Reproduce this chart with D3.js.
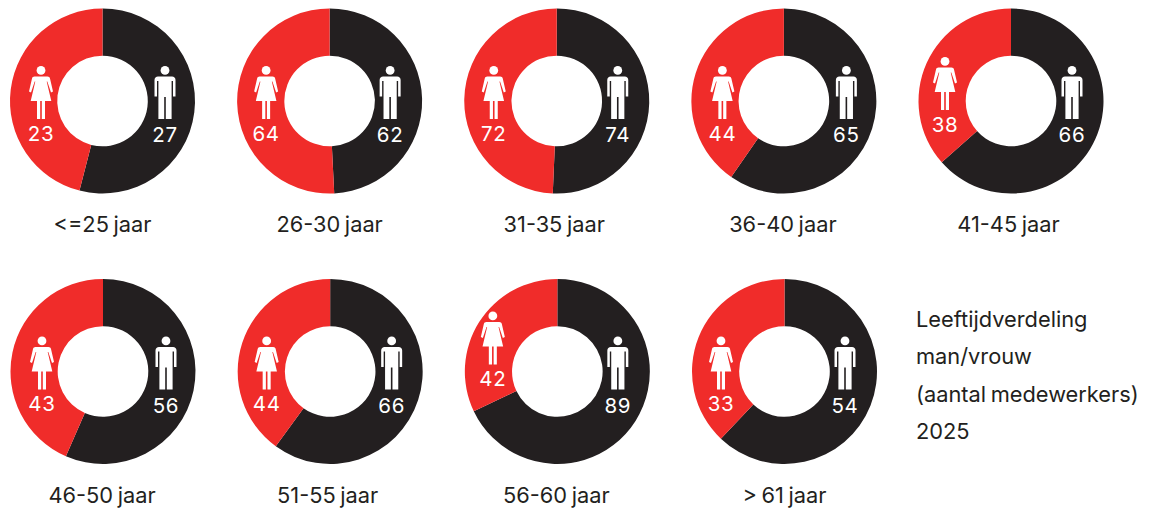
<!DOCTYPE html>
<html>
<head>
<meta charset="utf-8">
<script src="https://cdn.jsdelivr.net/npm/d3@7"></script>
<style>
  html, body { margin: 0; padding: 0; background: #fff; }
  svg { display: block; }
  text { font-family: "Inter", "Lato", sans-serif; }
</style>
</head>
<body>
<svg id="chart" width="1154" height="509"></svg>
<script>
// Values
const ageGroups = ["<=25 jaar", "26-30 jaar", "31-35 jaar", "36-40 jaar", "41-45 jaar",
                   "46-50 jaar", "51-55 jaar", "56-60 jaar", "> 61 jaar"];
const women = [23, 64, 72, 44, 38, 43, 44, 42, 33];
const men = [27, 62, 74, 65, 66, 56, 66, 89, 54];
const caption = ["Leeftijdverdeling", "man/vrouw", "(aantal medewerkers)", "2025"];

const colorWomen = "#f02c2a";
const colorMen = "#231f20";

const svg = d3.select("#chart");
const outerR = 92.5;
const innerR = 45.3;
const perRow = 5;

// Column positions of each row
const xRow1 = d3.scaleLinear().domain([0, 4]).range([102.5, 1011]);
const xRow2 = d3.scaleLinear().domain([0, 3]).range([103, 784.5]);
const rowY = [101, 371.5];

// Icon offsets from the donut centre, women and men
const womanDx = [-61.5, -63.5, -63, -61.5, -66, -61, -63.5, -64.5, -63.5];
const manDx = [62.5, 60.5, 61, 62.5, 61, 63, 61.5, 60.5, 60.5];
const womanLift = [0, 0, 0, 0, 9, 0, 0, 25, 0];
const labelDx = [0, 0, -2.5, -1, -2.5, -1, -2.5, -1, 0];

const arc = d3.arc().innerRadius(innerR).outerRadius(outerR);
const pie = d3.pie().sort(null).value(d => d.value);

// Pictograms, 24 wide and 53 high around x = 0, y = 0 at the head top
function drawWoman(g) {
    g.append("circle").attr("cx", 0).attr("cy", 4.4).attr("r", 4.4);
    g.append("path").attr("d",
        "M-6.5,10.5 L6.5,10.5 C7.8,10.5 8.6,11.2 9,12.4 L12,25.6 L10,26.4 L6.3,15.5 L5.7,15.5" +
        " L10.3,35 L4,35 L4,53 L0.8,53 L0.8,35 L-0.8,35 L-0.8,53 L-4,53 L-4,35 L-10.3,35" +
        " L-5.7,15.5 L-6.3,15.5 L-10,26.4 L-12,25.6 L-9,12.4 C-8.6,11.2 -7.8,10.5 -6.5,10.5 Z");
}

function drawMan(g) {
    g.append("circle").attr("cx", 0).attr("cy", 4.4).attr("r", 4.4);
    g.append("path").attr("d",
        "M-7,10.5 L7,10.5 C9,10.5 10.5,12 10.5,14 L10.5,30.5 L8,30.5 L8,15 L6.6,15" +
        " L6.6,53 L0.8,53 L0.8,31 L-0.8,31 L-0.8,53 L-6.6,53 L-6.6,15 L-8,15 L-8,30.5" +
        " L-10.5,30.5 L-10.5,14 C-10.5,12 -9,10.5 -7,10.5 Z");
}

ageGroups.forEach((label, i) => {
    const row = i < perRow ? 0 : 1;
    const cx = row === 0 ? xRow1(i) : xRow2(i - perRow);
    const cy = rowY[row];

    const g = svg.append("g").attr("transform", `translate(${cx},${cy})`);

    // Men first, clockwise from the top
    const slices = pie([
        { key: "men", value: men[i] },
        { key: "women", value: women[i] }
    ]);

    g.selectAll("path.slice")
        .data(slices)
        .join("path")
        .attr("class", "slice")
        .attr("d", arc)
        .attr("fill", d => d.data.key === "men" ? colorMen : colorWomen);

    const iconTop = -35;
    const lift = womanLift[i];

    const w = g.append("g")
        .attr("fill", "#fff")
        .attr("transform", `translate(${womanDx[i]},${iconTop - lift})`);
    drawWoman(w);

    const m = g.append("g")
        .attr("fill", "#fff")
        .attr("transform", `translate(${manDx[i]},${iconTop})`);
    drawMan(m);

    g.append("text")
        .attr("x", womanDx[i])
        .attr("y", 39.5 - lift)
        .attr("text-anchor", "middle")
        .attr("fill", "#fff")
        .style("font-size", "20.5px")
        .style("letter-spacing", "0.7px")
        .text(women[i]);

    g.append("text")
        .attr("x", manDx[i])
        .attr("y", 41)
        .attr("text-anchor", "middle")
        .attr("fill", "#fff")
        .style("font-size", "20.5px")
        .style("letter-spacing", "0.7px")
        .text(men[i]);

    g.append("text")
        .attr("x", labelDx[i])
        .attr("y", outerR + 38.5)
        .attr("text-anchor", "middle")
        .attr("fill", colorMen)
        .style("font-size", "21.8px")
        .style("word-spacing", "-1.5px")
        .text(label);
});

// Caption on the right of the second row
svg.append("g")
    .selectAll("text")
    .data(caption)
    .join("text")
    .attr("x", 916)
    .attr("y", (d, i) => 327 + i * 37.4)
    .attr("fill", colorMen)
    .style("font-size", "21.8px")
    .style("word-spacing", "-1.5px")
    .text(d => d);
</script>
</body>
</html>
